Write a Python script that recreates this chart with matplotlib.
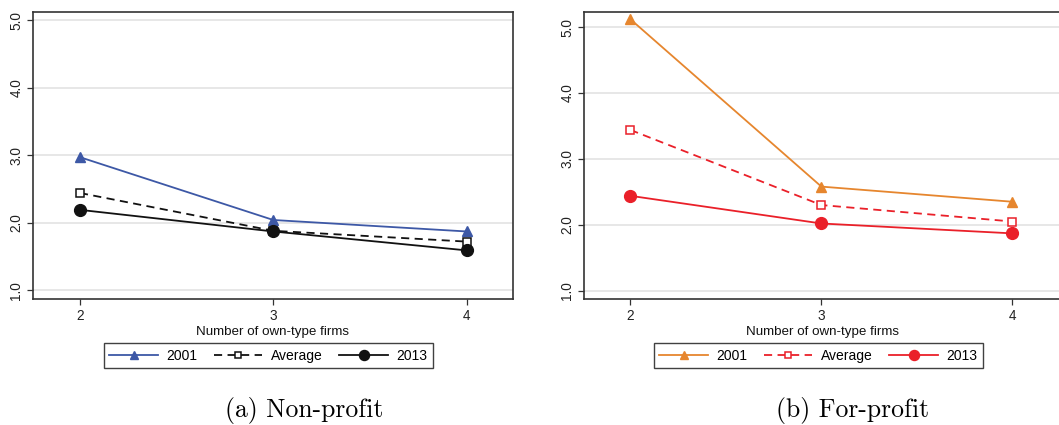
import matplotlib
matplotlib.use("Agg")
import matplotlib.pyplot as plt

# Number of own-type firms
firms = [2, 3, 4]
y_ticks = [1.0, 2.0, 3.0, 4.0, 5.0]
y_tick_labels = ["1.0", "2.0", "3.0", "4.0", "5.0"]

# Non-profit
np_2001 = [2.97, 2.04, 1.87]
np_avg = [2.44, 1.88, 1.72]
np_2013 = [2.19, 1.87, 1.59]

# For-profit
fp_2001 = [5.12, 2.58, 2.35]
fp_avg = [3.44, 2.30, 2.05]
fp_2013 = [2.44, 2.02, 1.87]

series_labels = ["2001", "Average", "2013"]
captions = ["(a) Non-profit", "(b) For-profit"]
x_label = "Number of own-type firms"

plt.rcParams["font.family"] = ["Liberation Sans", "DejaVu Sans"]

W, H = 1059, 425
fig = plt.figure(figsize=(W / 100, H / 100), dpi=100)


def px_axes(x0, x1, y0, y1):
    return fig.add_axes([x0 / W, 1 - y1 / H, (x1 - x0) / W, (y1 - y0) / H])


def style(ax, xlim, ylim):
    ax.set_xlim(*xlim)
    ax.set_ylim(*ylim)
    ax.set_xticks(firms)
    ax.set_xticklabels([str(f) for f in firms])
    ax.set_yticks(y_ticks)
    ax.set_yticklabels(y_tick_labels, rotation=90, va="center")
    ax.grid(axis="y", color="#e3e3e3", linewidth=1.2)
    ax.set_axisbelow(True)
    for s in ax.spines.values():
        s.set_color("#333333")
        s.set_linewidth(1.2)
    ax.tick_params(axis="both", direction="out", length=4, width=0.9,
                   color="#333333", labelsize=9.8, labelcolor="#222222", pad=3)
    ax.set_xlabel(x_label, fontsize=9.6, labelpad=2, color="#111111")


def draw(ax, s2001, savg, s2013, c2001, cavg, c2013):
    ax.plot(firms, s2001, color=c2001, lw=1.3, marker="^", ms=7.5,
            mfc=c2001, mec=c2001, label=series_labels[0], zorder=3)
    ax.plot(firms, savg, color=cavg, lw=1.3, ls=(0, (4.5, 3)), marker="s", ms=5.5,
            mfc="white", mec=cavg, mew=1.1, label=series_labels[1], zorder=3)
    ax.plot(firms, s2013, color=c2013, lw=1.3, marker="o", ms=8.5,
            mfc=c2013, mec=c2013, label=series_labels[2], zorder=4)
    leg = ax.legend(loc="upper center", bbox_to_anchor=(0.49, -0.13), ncol=3,
                    frameon=True, fancybox=False, edgecolor="#111111",
                    fontsize=10, handlelength=3.5, columnspacing=1.2,
                    handletextpad=0.6, borderpad=0.4, markerscale=0.85)
    leg.get_frame().set_linewidth(1.0)


ax1 = px_axes(33, 513, 12, 299)
style(ax1, (1.757, 4.24), (0.87, 5.12))
draw(ax1, np_2001, np_avg, np_2013, "#3d58a6", "#111111", "#111111")

ax2 = px_axes(584, 1062, 12, 299)
style(ax2, (1.757, 4.26), (0.874, 5.23))
draw(ax2, fp_2001, fp_avg, fp_2013, "#e6862e", "#ea2029", "#ea2029")

fig.text(304 / W, 1 - 411 / H, captions[0], ha="center", va="center",
         fontsize=18.5, family="cmr10")
fig.text(853 / W, 1 - 411 / H, captions[1], ha="center", va="center",
         fontsize=18.5, family="cmr10")

fig.savefig("out.png", dpi=100)
